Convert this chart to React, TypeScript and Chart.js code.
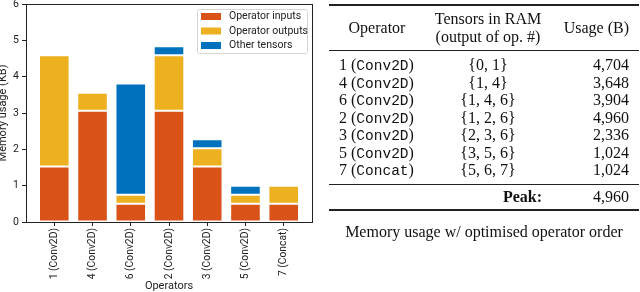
import React, { useEffect, useRef } from "react";
import { Chart, registerables } from "chart.js";

Chart.register(...registerables);

// ---- data ----
const opIds = ["1", "4", "6", "2", "3", "5", "7"];
const opTypes = ["Conv2D", "Conv2D", "Conv2D", "Conv2D", "Conv2D", "Conv2D", "Concat"];
const categories = opIds.map((id, i) => `${id} (${opTypes[i]})`);
const inputsKB = [1.53, 3.06, 0.5, 3.06, 1.53, 0.5, 0.5];
const outputsKB = [3.06, 0.5, 0.25, 1.53, 0.5, 0.25, 0.5];
const otherKB = [0, 0, 3.06, 0.25, 0.25, 0.25, 0];
const seriesLabels = ["Operator inputs", "Operator outputs", "Other tensors"];
const seriesColors = ["#D95319", "#EDB120", "#0072BD"];
const yMin = 0;
const yMax = 6;

const tensorSets = ["{0, 1}", "{1, 4}", "{1, 4, 6}", "{1, 2, 6}", "{2, 3, 6}", "{3, 5, 6}", "{5, 6, 7}"];
const usageBytes = ["4,704", "3,648", "3,904", "4,960", "2,336", "1,024", "1,024"];
const peakBytes = "4,960";
const caption = "Memory usage w/ optimised operator order";

const FONT = "Roboto";
const INK = "#222";

const framePlugin = {
  id: "frame",
  afterDraw(chart: any) {
    const { ctx, chartArea } = chart;
    ctx.save();
    ctx.strokeStyle = INK;
    ctx.lineWidth = 1;
    const l = Math.round(chartArea.left) + 0.5;
    const t = Math.round(chartArea.top) + 0.5;
    const r = Math.round(chartArea.right) + 0.5;
    const b = Math.round(chartArea.bottom) + 0.5;
    ctx.strokeRect(l, t, r - l, b - t);
    ctx.restore();
  },
};

const legendPlugin = {
  id: "innerLegend",
  afterDraw(chart: any) {
    const { ctx, chartArea } = chart;
    const w = 110;
    const h = 44;
    const x = Math.round(chartArea.right - 5 - w);
    const y = Math.round(chartArea.top + 5);
    ctx.save();
    ctx.beginPath();
    (ctx as any).roundRect(x + 0.5, y + 0.5, w, h, 2);
    ctx.fillStyle = "rgba(255,255,255,0.85)";
    ctx.fill();
    ctx.strokeStyle = "#d6d6d6";
    ctx.lineWidth = 1;
    ctx.stroke();
    chart.data.datasets.forEach((ds: any, i: number) => {
      const cy = y + 7.5 + i * 14.5;
      ctx.fillStyle = ds.backgroundColor;
      ctx.fillRect(x + 4, cy - 3.5, 20, 7);
      ctx.fillStyle = INK;
      ctx.font = `10.5px ${FONT}`;
      ctx.textBaseline = "middle";
      ctx.textAlign = "left";
      ctx.fillText(ds.label, x + 32, cy);
    });
    ctx.restore();
  },
};

function BarChart() {
  const ref = useRef<HTMLCanvasElement>(null);
  useEffect(() => {
    if (!ref.current) return;
    const series = [inputsKB, outputsKB, otherKB];
    const chart = new Chart(ref.current, {
      type: "bar",
      data: {
        datasets: series.map((vals, s) => ({
          label: seriesLabels[s],
          data: vals.map((v, i) => ({ x: i, y: v })),
          backgroundColor: seriesColors[s],
          borderColor: "rgba(255,255,255,0.2)",
          borderWidth: 1,
          borderSkipped: false,
          categoryPercentage: 0.8,
          barPercentage: 1.0,
        })),
      },
      options: {
        animation: false,
        responsive: false,
        maintainAspectRatio: false,
        layout: { padding: { top: 4, right: 3, left: 0, bottom: 0 } },
        plugins: {
          legend: { display: false },
          tooltip: { enabled: false },
        },
        scales: {
          x: {
            type: "linear",
            stacked: true,
            offset: false,
            min: -0.74,
            max: categories.length - 1 + 0.74,
            afterBuildTicks: (scale: any) => {
              scale.ticks = categories.map((_, i) => ({ value: i }));
            },
            afterFit: (scale: any) => {
              scale.height = 70;
              scale.paddingLeft = 0;
              scale.paddingRight = 0;
            },
            ticks: {
              autoSkip: false,
              minRotation: 90,
              maxRotation: 90,
              padding: 2,
              color: INK,
              font: { family: FONT, size: 10.3 },
              callback: (v: any) => categories[Math.round(Number(v))],
            },
            grid: { offset: false, drawOnChartArea: false, drawTicks: true, tickLength: 4, color: INK },
            border: { display: false },
            title: {
              display: true,
              text: "Operators",
              color: INK,
              font: { family: FONT, size: 11, lineHeight: 1.1 },
              padding: { top: 0, bottom: 0 },
            },
          },
          y: {
            stacked: true,
            min: yMin,
            max: yMax,
            afterFit: (scale: any) => {
              scale.width = 29;
              scale.paddingTop = 0;
              scale.paddingBottom = 0;
            },
            ticks: {
              stepSize: 1,
              padding: 3,
              color: INK,
              font: { family: FONT, size: 10.5 },
            },
            grid: { drawOnChartArea: false, drawTicks: true, tickLength: 4, color: INK },
            border: { display: false },
            title: {
              display: true,
              text: "Memory usage (KB)",
              color: INK,
              font: { family: FONT, size: 11, lineHeight: 1.1 },
              padding: { top: 0, bottom: 0 },
            },
          },
        },
      },
      plugins: [framePlugin, legendPlugin],
    } as any);
    return () => chart.destroy();
  }, []);
  return (
    <canvas
      ref={ref}
      width={318}
      height={292}
      style={{ position: "absolute", left: -3, top: 0, width: 318, height: 292 }}
    />
  );
}

const SERIF = "'Liberation Serif', 'Times New Roman', serif";
const MONO = "'Liberation Mono', 'Courier New', monospace";
const LH = 18;

function Txt(props: { cy: number; x: number; align: "left" | "center" | "right"; children: any; bold?: boolean }) {
  const { cy, x, align, children, bold } = props;
  const style: any = {
    position: "absolute",
    top: cy - LH / 2,
    height: LH,
    lineHeight: `${LH}px`,
    fontFamily: SERIF,
    fontSize: 16,
    color: "#111",
    whiteSpace: "nowrap",
    fontWeight: bold ? "bold" : "normal",
  };
  if (align === "left") style.left = x;
  else if (align === "right") style.right = 640 - x;
  else {
    style.left = x - 150;
    style.width = 300;
    style.textAlign = "center";
  }
  return <div style={style}>{children}</div>;
}

function Rule(props: { y: number; h: number }) {
  return (
    <div
      style={{
        position: "absolute",
        left: 329,
        width: 310,
        top: props.y - props.h / 2,
        height: props.h,
        background: "#222",
      }}
    />
  );
}

function Table() {
  const rowY = (i: number) => 65 + i * 17.5;
  return (
    <>
      <Rule y={5} h={1.6} />
      <Txt cy={28} x={377} align="center">Operator</Txt>
      <Txt cy={19} x={488} align="center">Tensors in RAM</Txt>
      <Txt cy={37} x={488} align="center">(output of op. #)</Txt>
      <Txt cy={28} x={629} align="right">Usage (B)</Txt>
      <Rule y={50} h={1} />
      {opIds.map((id, i) => (
        <React.Fragment key={id}>
          <Txt cy={rowY(i)} x={339} align="left">
            {id} (<span style={{ fontFamily: MONO, fontSize: 14.5 }}>{opTypes[i]}</span>)
          </Txt>
          <Txt cy={rowY(i)} x={488} align="center">{tensorSets[i]}</Txt>
          <Txt cy={rowY(i)} x={629} align="right">{usageBytes[i]}</Txt>
        </React.Fragment>
      ))}
      <Rule y={184} h={1} />
      <Txt cy={197} x={542} align="right" bold>Peak:</Txt>
      <Txt cy={197} x={629} align="right">{peakBytes}</Txt>
      <Rule y={210} h={1.6} />
      <Txt cy={232} x={484} align="center">{caption}</Txt>
    </>
  );
}

export default function App() {
  return (
    <div
      style={{
        position: "absolute",
        left: 0,
        top: 0,
        width: 640,
        height: 292,
        overflow: "hidden",
        background: "#fff",
      }}
    >
      <BarChart />
      <Table />
    </div>
  );
}
